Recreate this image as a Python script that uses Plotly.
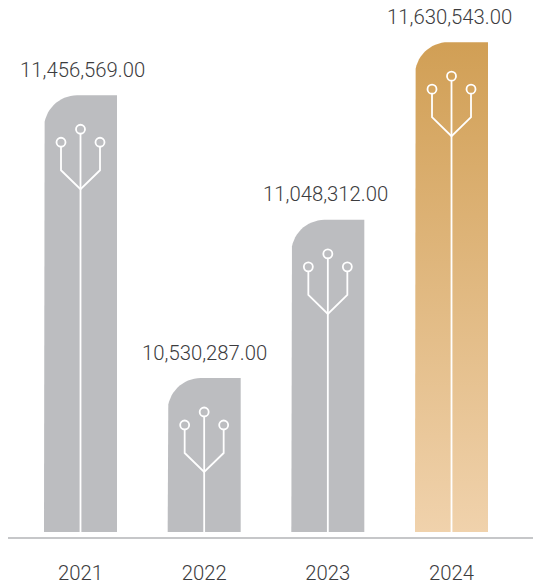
import math
import plotly.graph_objects as go

years = [2021, 2022, 2023, 2024]
values = [11456569.00, 10530287.00, 11048312.00, 11630543.00]
labels = ["11,456,569.00", "10,530,287.00", "11,048,312.00", "11,630,543.00"]
label_shift = [1.5, 0.5, -2, -2.5]
BASE = 10025783
GRAY = "#bcbdc0"
TOP_GOLD = "#d19f55"
BOTTOM_GOLD = "#f0d2ac"
TEXT = "#3c3c3e"
FONT = dict(family="Roboto", size=20.3, color=TEXT, weight=300)

W, H = 533, 585
L, B = 8, 48
PX_X = 123.67
PX_Y = 3276.0
x_lo = 2021 - (80.5 - L) / PX_X
x_hi = x_lo + (W - L) / PX_X
y_lo = BASE - 5 * PX_Y
y_hi = y_lo + (H - B) * PX_Y


def dx(p):
    return p / PX_X


def dy(p):
    return p * PX_Y


fig = go.Figure()
HALF = 36.5
R = 33

for i, (yr, v) in enumerate(zip(years, values)):
    xs = [yr - dx(HALF), yr - dx(HALF)]
    ys = [BASE, v - dy(R)]
    for k in range(1, 17):
        a = math.pi / 2 * k / 16
        xs.append(yr - dx(HALF) + dx(R) * (1 - math.cos(a)))
        ys.append(v - dy(R) + dy(R) * math.sin(a))
    xs += [yr + dx(HALF), yr + dx(HALF), yr - dx(HALF)]
    ys += [v, BASE, BASE]
    trace = dict(x=xs, y=ys, mode="lines", fill="toself", line=dict(width=0),
                 hoverinfo="skip", showlegend=False)
    if yr == 2024:
        trace["fillgradient"] = dict(type="vertical",
                                     colorscale=[[0, BOTTOM_GOLD], [1, TOP_GOLD]])
    else:
        trace["fillcolor"] = GRAY
    fig.add_trace(go.Scatter(**trace))

    # tree icon, placed from the bar's top
    line = dict(color="white", width=1.8)
    fig.add_trace(go.Scatter(x=[yr, yr], y=[BASE, v - dy(38)], mode="lines", line=line,
                             hoverinfo="skip", showlegend=False))
    fig.add_trace(go.Scatter(
        x=[yr - dx(19.5), yr - dx(19.5), yr, yr + dx(19.5), yr + dx(19.5)],
        y=[v - dy(51.5), v - dy(75), v - dy(94), v - dy(75), v - dy(51.5)],
        mode="lines", line=dict(color="white", width=1.8, simplify=False),
        hoverinfo="skip", showlegend=False))
    fig.add_trace(go.Scatter(
        x=[yr - dx(19.5), yr, yr + dx(19.5)],
        y=[v - dy(47), v - dy(34), v - dy(47)],
        mode="markers",
        marker=dict(symbol="circle-open", size=9, color="white", line=dict(width=1.8, color="white")),
        hoverinfo="skip", showlegend=False))

    fig.add_annotation(x=yr, y=v, text=labels[i], showarrow=False, xanchor="center",
                       yanchor="middle", yshift=25.5, xshift=label_shift[i], font=FONT)

fig.update_layout(
    width=W, height=H, autosize=False,
    margin=dict(l=L, r=0, t=0, b=B),
    paper_bgcolor="white", plot_bgcolor="white",
    showlegend=False,
)
fig.update_xaxes(range=[x_lo, x_hi], tickmode="array", tickvals=years,
                 ticktext=[str(y) for y in years], showgrid=False, zeroline=False,
                 showline=True, linecolor="#c6c7c9", linewidth=2, automargin=False,
                 ticks="outside", ticklen=17, tickcolor="rgba(0,0,0,0)",
                 tickfont=FONT)
fig.update_yaxes(range=[y_lo, y_hi], visible=False, showgrid=False, zeroline=False)

fig.write_html("out.html", config=dict(displayModeBar=False),
               post_script="document.body.style.margin='0';document.body.style.overflow='hidden';")
